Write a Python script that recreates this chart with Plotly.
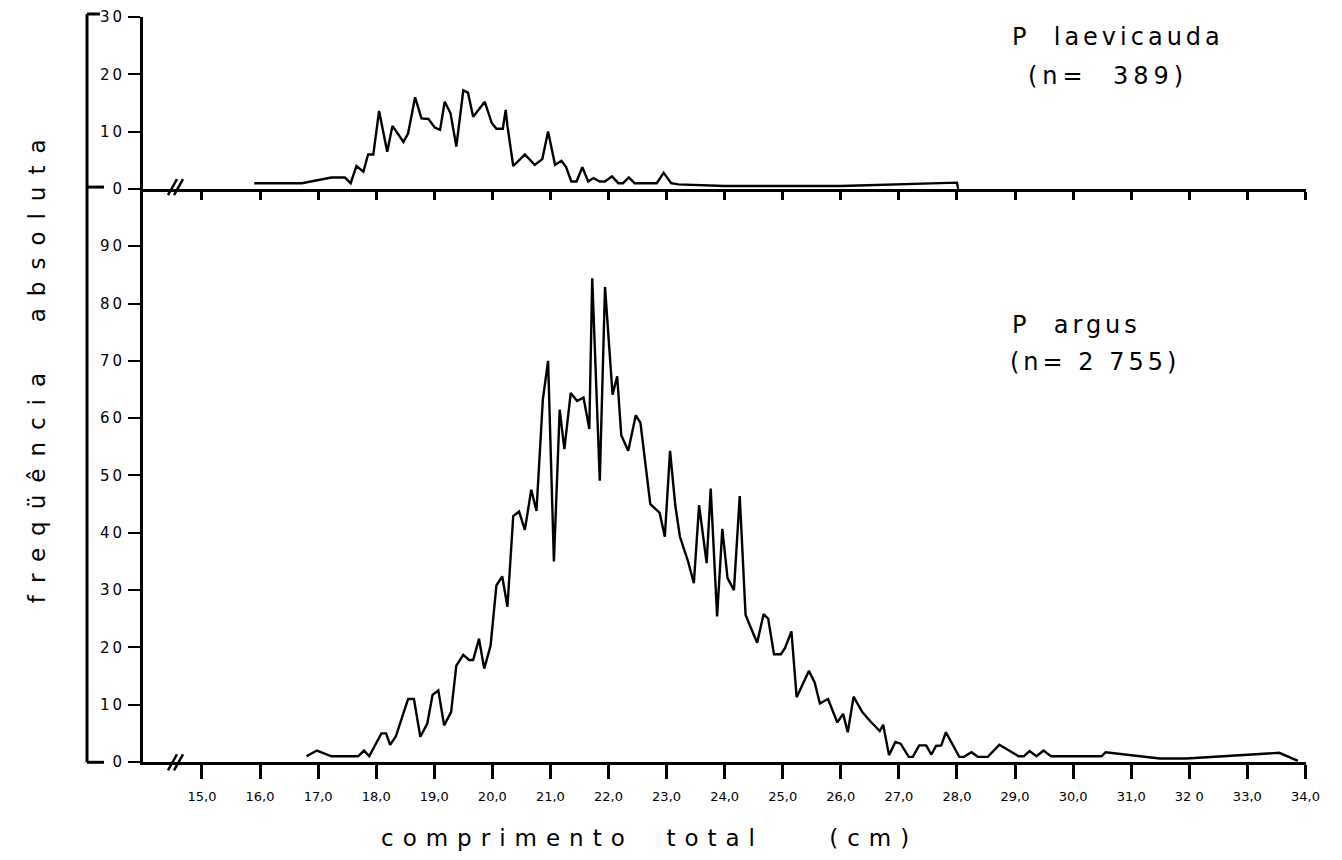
import plotly.graph_objects as go

# ---- data ----
# Panulirus laevicauda (top panel)
lae_x = [15.90, 16.72, 17.23, 17.46, 17.56, 17.66, 17.78, 17.86, 17.95, 18.05,
         18.19, 18.28, 18.47, 18.55, 18.67, 18.78, 18.90, 19.01, 19.10, 19.18,
         19.28, 19.38, 19.50, 19.58, 19.67, 19.87, 19.99, 20.07, 20.18, 20.23,
         20.26, 20.36, 20.56, 20.73, 20.86, 20.96, 21.08, 21.19, 21.27, 21.36,
         21.45, 21.55, 21.65, 21.74, 21.85, 21.94, 22.06, 22.17, 22.25, 22.35,
         22.45, 22.83, 22.95, 23.08, 23.20, 24.00, 26.00, 28.00, 28.02]
lae_y = [1, 1, 2, 2, 1, 4, 3, 6, 6, 13.6,
         6.5, 11, 8.2, 9.7, 16, 12.3, 12.2, 10.7, 10.3, 15.2,
         13.2, 7.4, 17.2, 16.8, 12.6, 15.2, 11.5, 10.5, 10.5, 13.8,
         11, 4, 6, 4.2, 5.2, 10, 4.2, 4.9, 3.8, 1.3,
         1.3, 3.8, 1.3, 1.9, 1.3, 1.3, 2.2, 1, 1, 2,
         1, 1, 2.8, 1, 0.8, 0.5, 0.5, 1.1, 0]

# Panulirus argus (bottom panel)
arg_x = [16.80, 16.98, 17.23, 17.69, 17.79, 17.88, 18.09, 18.17, 18.24, 18.34,
         18.55, 18.65, 18.76, 18.88, 18.97, 19.07, 19.17, 19.29, 19.38, 19.50,
         19.60, 19.67, 19.77, 19.86, 19.97, 20.07, 20.17, 20.26, 20.36, 20.46,
         20.56, 20.67, 20.76, 20.87, 20.96, 21.06, 21.16, 21.24, 21.35, 21.46,
         21.57, 21.67, 21.72, 21.85, 21.94, 22.07, 22.15, 22.22, 22.34, 22.47,
         22.55, 22.72, 22.88, 22.97, 23.06, 23.15, 23.23, 23.37, 23.47, 23.56,
         23.69, 23.76, 23.87, 23.96, 24.05, 24.16, 24.26, 24.36, 24.44, 24.56,
         24.67, 24.75, 24.85, 24.97, 25.04, 25.15, 25.24, 25.45, 25.55, 25.64,
         25.78, 25.94, 26.04, 26.12, 26.22, 26.37, 26.50, 26.67, 26.73, 26.83,
         26.94, 27.03, 27.17, 27.24, 27.35, 27.47, 27.56, 27.64, 27.73, 27.81,
         28.04, 28.12, 28.25, 28.36, 28.53, 28.73, 29.06, 29.15, 29.25, 29.37,
         29.49, 29.62, 30.49, 30.56, 31.49, 31.95, 33.55, 33.87]
arg_y = [1, 2, 1, 1, 2, 1, 5, 5, 3, 4.5,
         11, 11, 4.4, 6.7, 11.7, 12.5, 6.4, 8.7, 16.8, 18.7,
         17.8, 17.8, 21.5, 16.3, 20.3, 30.8, 32.4, 27.1, 42.9, 43.7,
         40.5, 47.5, 43.8, 63.3, 70, 35, 61.5, 54.6, 64.4, 63,
         63.6, 58.1, 84.4, 49.1, 82.9, 64.1, 67.3, 57, 54.3, 60.5,
         59.2, 45, 43.5, 39.3, 54.3, 44.8, 39.3, 35, 31.2, 44.8,
         34.7, 47.7, 25.4, 40.7, 32.1, 30, 46.4, 25.7, 23.7, 20.8,
         25.8, 25, 18.8, 18.8, 19.9, 22.8, 11.3, 15.9, 13.9, 10.2,
         11, 6.9, 8.4, 5.2, 11.4, 8.7, 7.2, 5.4, 6.5, 1.2,
         3.5, 3.2, 0.9, 0.9, 2.9, 2.9, 1.3, 2.8, 2.9, 5.2,
         0.9, 0.9, 1.7, 0.9, 0.9, 3, 1, 1, 1.9, 1,
         2, 1, 1, 1.7, 0.6, 0.6, 1.6, 0.2]

x_tickvals = [15, 16, 17, 18, 19, 20, 21, 22, 23, 24, 25, 26, 27, 28, 29, 30, 31, 32, 33, 34]
x_ticktext = ["15,0", "16,0", "17,0", "18,0", "19,0", "20,0", "21,0", "22,0", "23,0", "24,0",
              "25,0", "26,0", "27,0", "28,0", "29,0", "30,0", "31,0", "32 0", "33,0", "34,0"]
bot_yticks = [0, 10, 20, 30, 40, 50, 60, 70, 80, 90]
top_yticks = [0, 10, 20, 30]

species_top = "P  laevicauda"
n_top = "(n=  389)"
species_bot = "P  argus"
n_bot = "(n= 2 755)"
x_title = "comprimento  total    (cm)"
y_title = "freqüência  absoluta"

FONT = "DejaVu Sans"
# the page body adds an 8 px offset; the figure is sized so the plot lands
# on the reference pixel positions
OFF = 8
W, H = 1342 - OFF, 860 - OFF
PLOT_L, PLOT_R, PLOT_T, PLOT_B = 143, 1306, 17, 761.7   # reference pixels
L = PLOT_L - OFF
R = 1342 - PLOT_R
T = PLOT_T - OFF
B = 860 - PLOT_B
PW = PLOT_R - PLOT_L
PH = PLOT_B - PLOT_T
split = 100.0 / 130.0


def px(xp):
    return (xp - PLOT_L) / PW


def py(yp):
    return (PLOT_B - yp) / PH


def sp(text, ls):
    return "<span style='letter-spacing:%dpx'>%s</span>" % (ls, text)


fig = go.Figure()
fig.add_trace(go.Scatter(x=arg_x, y=arg_y, mode="lines", xaxis="x", yaxis="y",
                         line=dict(color="black", width=2.4), showlegend=False,
                         hoverinfo="skip"))
fig.add_trace(go.Scatter(x=lae_x, y=lae_y, mode="lines", xaxis="x2", yaxis="y2",
                         line=dict(color="black", width=2.4), showlegend=False,
                         hoverinfo="skip"))

xr = [13.985, 34.01]
common_x = dict(range=xr, showgrid=False, zeroline=False, showline=True,
                linecolor="black", linewidth=3, ticks="outside", tickcolor="black",
                tickwidth=2.5, tickvals=x_tickvals)
common_y = dict(showgrid=False, zeroline=False, showline=True, linecolor="black",
                linewidth=3, ticks="outside", tickcolor="black", tickwidth=2,
                ticklen=12, tickfont=dict(family=FONT, size=15, color="black"))

fig.update_layout(
    width=W, height=H,
    margin=dict(l=L, r=R, t=T, b=B, autoexpand=False),
    paper_bgcolor="white", plot_bgcolor="white",
    xaxis=dict(**common_x, domain=[0, 1], anchor="y", ticklen=14,
               ticktext=x_ticktext,
               tickfont=dict(family=FONT, size=13, color="black"),
               ticklabelstandoff=6),
    yaxis=dict(**common_y, domain=[0, split], anchor="x", range=[0, 100],
               tickvals=bot_yticks,
               ticktext=[sp(str(v), 3) for v in bot_yticks]),
    xaxis2=dict(**common_x, domain=[0, 1], anchor="y2", ticklen=8,
                showticklabels=False, matches="x"),
    yaxis2=dict(**common_y, domain=[split, 1], anchor="x2", range=[0, 30],
                tickvals=top_yticks,
                ticktext=[sp(str(v), 3) for v in top_yticks]),
)

ann_font = dict(family=FONT, size=24, color="black")
fig.add_annotation(text=sp(species_top, 4), xref="paper", yref="paper",
                   x=px(1010), y=py(37), xanchor="left", yanchor="middle",
                   showarrow=False, font=ann_font)
fig.add_annotation(text=sp(n_top, 5), xref="paper", yref="paper",
                   x=px(1026), y=py(76), xanchor="left", yanchor="middle",
                   showarrow=False, font=ann_font)
fig.add_annotation(text=sp(species_bot, 4), xref="paper", yref="paper",
                   x=px(1010), y=py(325), xanchor="left", yanchor="middle",
                   showarrow=False, font=ann_font)
fig.add_annotation(text=sp(n_bot, 4), xref="paper", yref="paper",
                   x=px(1008), y=py(362), xanchor="left", yanchor="middle",
                   showarrow=False, font=ann_font)
fig.add_annotation(text=sp(x_title, 9), xref="paper", yref="paper",
                   x=px(649), y=py(838), xanchor="center", yanchor="middle",
                   showarrow=False, font=dict(family=FONT, size=23, color="black"))
fig.add_annotation(text=sp(y_title, 12), xref="paper", yref="paper",
                   x=px(37), y=py(365), xanchor="center", yanchor="middle",
                   textangle=-90, showarrow=False,
                   font=dict(family=FONT, size=23, color="black"))

# bracket grouping the two vertical scales
blk = dict(color="black", width=3)
for (x0, y0, x1, y1) in [(87, 14, 87, 762), (87, 14, 100, 14),
                         (87, 187, 104, 187), (87, 762, 104, 762)]:
    fig.add_shape(type="line", xref="paper", yref="paper",
                  x0=px(x0), y0=py(y0), x1=px(x1), y1=py(y1), line=blk)

# axis-break marks "//"
for base in (187, 762):
    for dx in (0, 6):
        fig.add_shape(type="line", xref="paper", yref="paper",
                      x0=px(168 + dx), y0=py(base + 8), x1=px(177 + dx), y1=py(base - 8),
                      line=dict(color="black", width=2.5))

fig.write_html("out.html")
